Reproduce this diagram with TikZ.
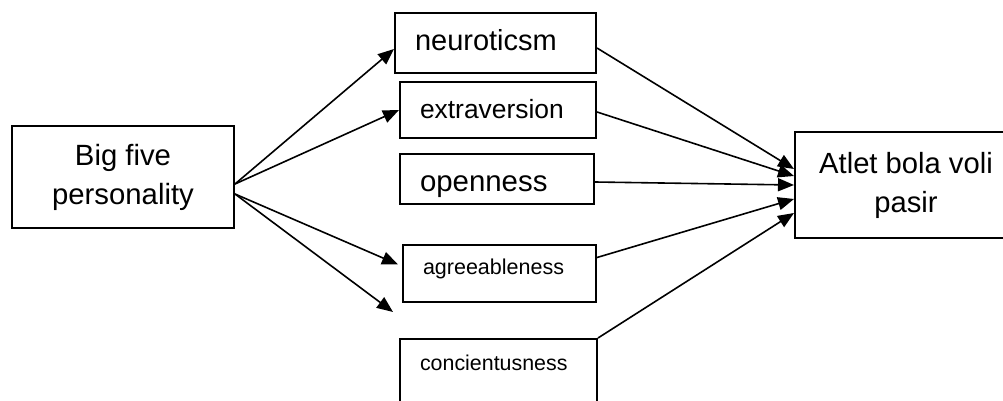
\documentclass[tikz,border=0pt]{standalone}
\usepackage{fontspec}
\setmainfont{Liberation Sans}
\usetikzlibrary{arrows.meta}
\usetikzlibrary{positioning}

\begin{document}
\begin{tikzpicture}[x=1pt, y=-1pt,
   box/.style={draw, line width=2pt, inner sep=0pt, anchor=north west},
   link/.style={line width=1.6pt, -{Triangle[length=16pt, width=13pt]}}]
  \useasboundingbox (0,0) rectangle (1003,401);
  \node[box, minimum width=222pt, minimum height=102pt, align=center,
        font=\fontsize{29.3}{39}\selectfont] (big) at (11,125) {Big five\\personality};
  \node[box, minimum width=222pt, minimum height=106pt, align=center,
        font=\fontsize{29.2}{39}\selectfont] (atl) at (794,131) {Atlet bola voli\\pasir};
  % the five traits
  \foreach \nm/\lab/\x/\y/\w/\h/\fsz/\hgt/\dpt
     [evaluate=\w as \tw using \w-40] in
     {neu/neuroticsm/394/12/201/60/29/18/2,
      ext/extraversion/399/81/196/56/26.4/18/2,
      ope/openness/399/153/194/50/29.4/24/0,
      agr/agreeableness/402/244/193/57/21.5/10/9,
      con/concientusness/399/338/197/72/21.4/6/16} {
     \node[box, inner xsep=20pt, align=left, text width=\tw pt,
           minimum height=\h pt, text height=\hgt pt, text depth=\dpt pt,
           font=\fontsize{\fsz}{\fsz}\selectfont] (\nm) at (\x,\y) {\lab};
  }
  \coordinate (bfa) at ([yshift=-7pt]big.east);
  \coordinate (bfb) at ([yshift=-17pt]big.east);
  \coordinate (gap) at (393,312);
  \draw[link] (bfa) -- ([yshift=-6pt]neu.west);
  \draw[link] (bfa) -- (ext.west);
  \draw[link] (bfb) -- ([xshift=-4pt, yshift=9pt]agr.west);
  \draw[link] (bfb) -- (gap);
  \foreach \nm/\s/\e in {neu/-5/16, ext/-2/9, ope/-3/0, agr/16/-14}
     \draw[link] ([yshift=\s pt]\nm.east) -- ([yshift=\e pt]atl.west);
  \draw[link] (con.north east) -- ([yshift=-28pt]atl.west);
\end{tikzpicture}
\end{document}
